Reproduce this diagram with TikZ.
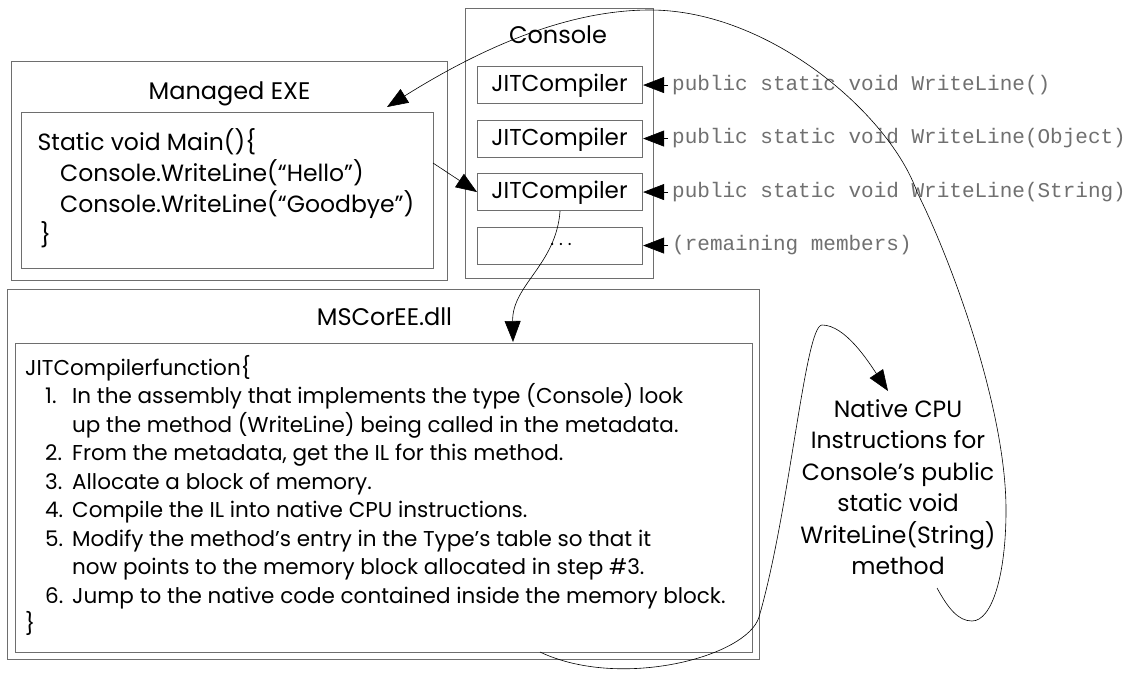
\documentclass[tikz,border=0pt]{standalone}
\usepackage{fontspec}
\setmainfont{Poppins}
\setmonofont{Liberation Mono}
\usetikzlibrary{arrows.meta}

\definecolor{framegray}{RGB}{110,110,110}
\definecolor{labelgray}{RGB}{112,112,112}

\tikzset{
  frame/.style={draw=framegray, line width=1.1pt, inner sep=0pt, anchor=north west},
  titletext/.style={inner sep=0pt, anchor=base, font=\fontsize{24}{27}\selectfont},
  jittext/.style={inner sep=0pt, anchor=base, font=\fontsize{23}{26}\selectfont},
  codetext/.style={inner sep=0pt, anchor=base west, font=\fontsize{23.5}{26}\selectfont},
  bodytext/.style={inner sep=0pt, anchor=base west, font=\fontsize{21.5}{24}\selectfont},
  nattext/.style={inner sep=0pt, anchor=base, font=\fontsize{23.5}{26}\selectfont},
  sigtext/.style={inner sep=0pt, anchor=base west, text=labelgray, font=\ttfamily\fontsize{21}{24}\selectfont},
  conn/.style={draw=black, line width=0.6pt},
  arr/.style={-{Triangle[length=21pt,width=16pt]}},
}

\begin{document}
\begin{tikzpicture}[x=1pt,y=-1pt]
\useasboundingbox[fill=white] (0,0) rectangle (1131,675);

% ---------- Managed EXE ----------
\node[frame, minimum width=436pt, minimum height=219.5pt] (exe) at (10.5,60.5) {};
\node[frame, minimum width=411.5pt, minimum height=156pt] (exein) at (21.3,112.3) {};
\node[titletext] (exetitle) at (229.5,99) {Managed EXE};
\node[codetext] (code1) at (37.5,150) {Static void Main()\{};
\node[codetext] (code2) at (60,181) {Console.WriteLine(“Hello”)};
\node[codetext] (code3) at (60,212) {Console.WriteLine(“Goodbye”)};
\node[codetext] (code4) at (40,243) {\}};

% ---------- Console ----------
\node[frame, minimum width=188.5pt, minimum height=270pt] (con) at (464.5,8) {};
\node[titletext] (contitle) at (558,43) {Console};
\node[frame, minimum width=165pt, minimum height=37pt] (jit1) at (477,66) {};
\node[frame, minimum width=165pt, minimum height=37pt] (jit2) at (477,119.5) {};
\node[frame, minimum width=165pt, minimum height=37pt] (jit3) at (477,173) {};
\node[frame, minimum width=165pt, minimum height=37pt] (jit4) at (477,226.5) {};
\node[jittext] (jt1) at (559.5,91.5) {JITCompiler};
\node[jittext] (jt2) at (559.5,145) {JITCompiler};
\node[jittext] (jt3) at (559.5,198.5) {JITCompiler};
\node[inner sep=0pt, font=\fontsize{18}{20}\selectfont] (jt4) at (561,244) {.\hspace{5pt}.\hspace{5pt}.};

% method signatures pointing at the stubs
\node[sigtext] (sig1) at (672,90) {public static void WriteLine()};
\node[sigtext] (sig2) at (672,143.5) {public static void WriteLine(Object)};
\node[sigtext] (sig3) at (672,197) {public static void WriteLine(String)};
\node[sigtext] (sig4) at (672,250.5) {(remaining members)};
\foreach \k in {1,2,3,4}{
  \draw[conn, arr] ([xshift=-4pt]jit\k.east -| sig\k.west) -- (jit\k.east);
}

% ---------- MSCorEE.dll ----------
\node[frame, minimum width=752pt, minimum height=370pt] (mscor) at (7,289) {};
\node[frame, minimum width=737pt, minimum height=309pt] (mscorin) at (15,343) {};
\node[titletext] (mstitle) at (384.5,325) {MSCorEE.dll};
\node[bodytext] (b0) at (25,375) {JITCompilerfunction\{};
\node[bodytext] (b1) at (45,403.5) {\makebox[27pt][l]{1.}In the assembly that implements the type (Console) look};
\node[bodytext] (b1a) at (72,432) {up the method (WriteLine) being called in the metadata.};
\node[bodytext] (b2) at (45,460.5) {\makebox[27pt][l]{2.}From the metadata, get the IL for this method.};
\node[bodytext] (b3) at (45,489) {\makebox[27pt][l]{3.}Allocate a block of memory.};
\node[bodytext] (b4) at (45,517.5) {\makebox[27pt][l]{4.}Compile the IL into native CPU instructions.};
\node[bodytext] (b5) at (45,546) {\makebox[27pt][l]{5.}Modify the method’s entry in the Type’s table so that it};
\node[bodytext] (b5a) at (72,574.5) {now points to the memory block allocated in step \#3.};
\node[bodytext] (b6) at (45,603) {\makebox[27pt][l]{6.}Jump to the native code contained inside the memory block.};
\node[bodytext] (b7) at (25,631.5) {\}};

% ---------- native code ----------
\node[nattext] (n1) at (898,417) {Native CPU};
\node[nattext] (n2) at (898,448.5) {Instructions for};
\node[nattext] (n3) at (898,480) {Console’s public};
\node[nattext] (n4) at (898,511.5) {static void};
\node[nattext] (n5) at (898,543) {WriteLine(String)};
\node[nattext] (n6) at (898,574.5) {method};

% ---------- connectors ----------
\coordinate (callout) at (433,163);
\draw[conn, arr] (callout) -- (jit3.west);

\coordinate (jitin) at (513,342);
\draw[conn, arr] (jit3.south) .. controls (556,265) and (512,285) .. (jitin);

\coordinate (jitout) at (540,652);
\coordinate (natin) at (888,391);
\draw[conn, arr] (jitout) .. controls (620,690) and (747,657) .. (759,617)
  .. controls (790,510) and (805,325) .. (822,325)
  .. controls (845,325) and (868,361) .. (natin);

\coordinate (natout) at (937,588);
\coordinate (retin) at (387,107);
\draw[conn, arr] (natout) .. controls (948,608) and (958,621) .. (972,621)
  .. controls (992,621) and (1006,575) .. (1006,510)
  .. controls (1006,410) and (953,264) .. (917,192)
  .. controls (890,115) and (770,10) .. (650,10)
  .. controls (560,10) and (470,55) .. (retin);
\end{tikzpicture}
\end{document}
